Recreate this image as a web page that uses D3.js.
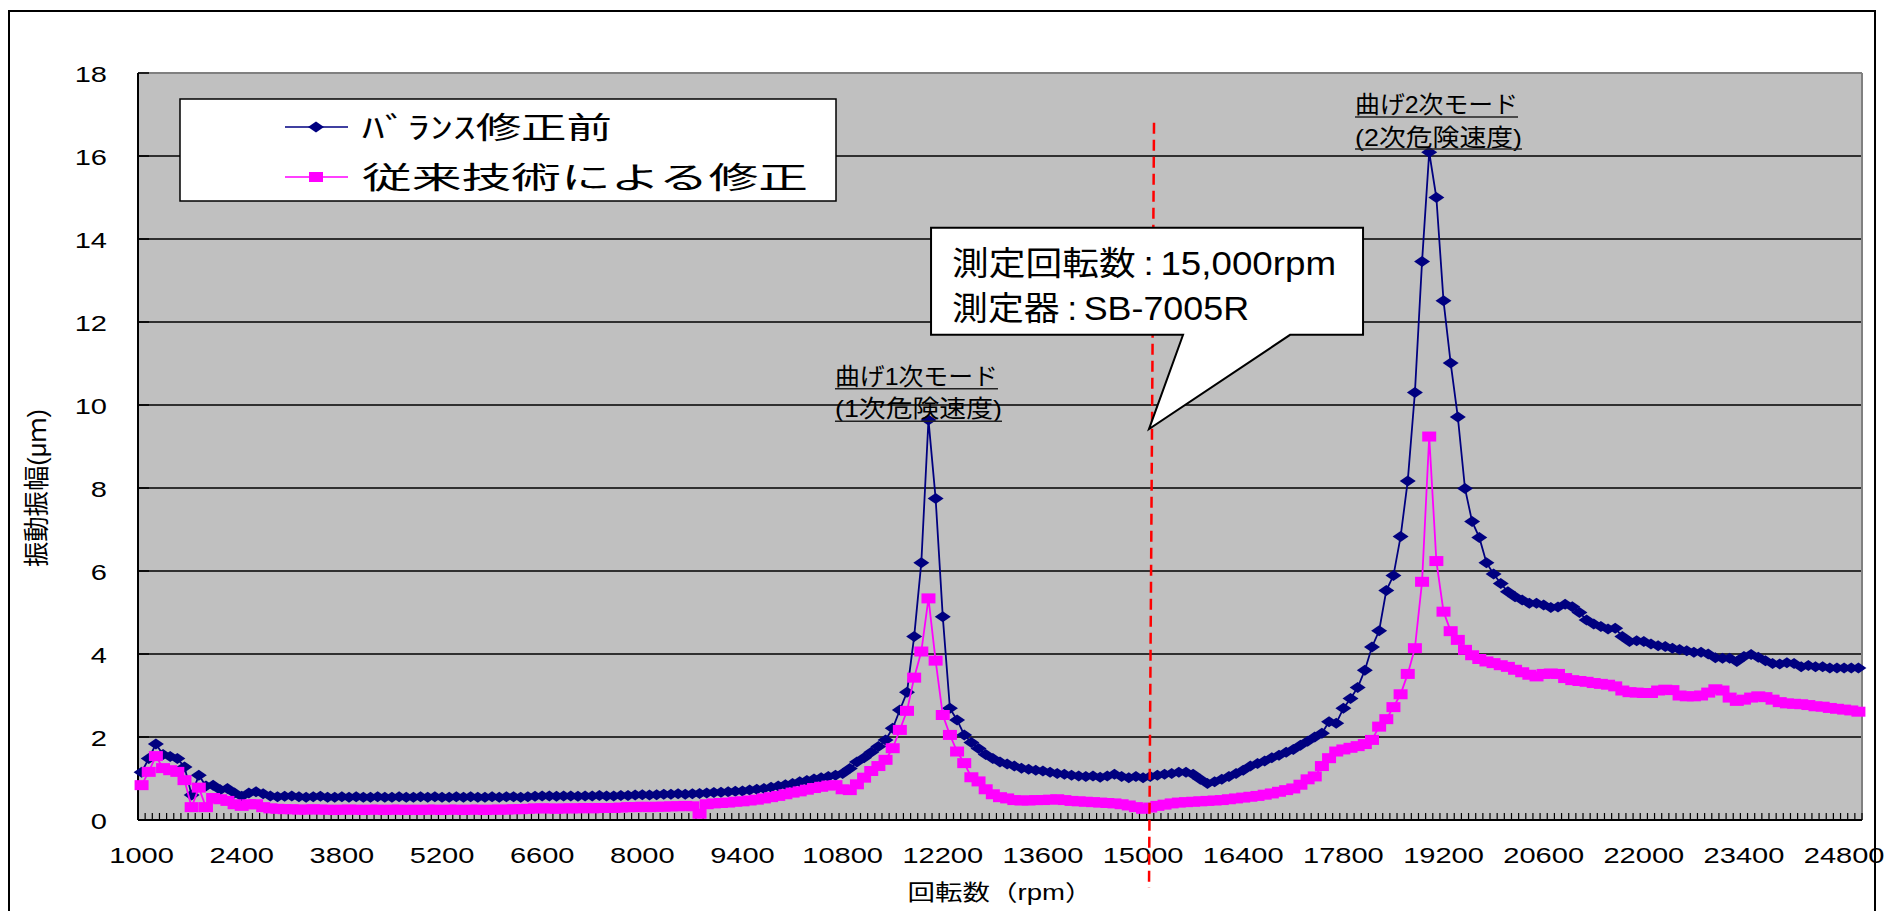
<!DOCTYPE html>
<html><head><meta charset="utf-8">
<script src="https://cdn.jsdelivr.net/npm/d3@7"></script>
<style>
html,body{margin:0;padding:0;background:#fff;}
svg{display:block;}
</style></head>
<body>
<svg id="chart" width="1886" height="911"></svg>
<script>
// ---------------- DATA ----------------
const rpm = d3.range(1000, 25001, 100); // category axis: 1000 … 25000 rpm, every 100 rpm
const xTickLabels = ["1000","2400","3800","5200","6600","8000","9400","10800","12200","13600","15000","16400","17800","19200","20600","22000","23400","24800"];
const yTicks = [0,2,4,6,8,10,12,14,16,18];
const seriesNames = ["ﾊﾞﾗﾝｽ修正前", "従来技術による修正"];
const xTitle = "回転数（rpm）";
const yTitle = "振動振幅(μｍ)";

// ﾊﾞﾗﾝｽ修正前 (before balance correction), µm
const before = [
1.15,1.48,1.83,1.58,1.53,1.48,1.28,0.60,1.08,0.82,
0.84,0.73,0.76,0.65,0.57,0.65,0.68,0.63,0.58,0.56,
0.57,0.58,0.56,0.55,0.56,0.57,0.55,0.55,0.56,0.55,
0.56,0.55,0.55,0.56,0.55,0.55,0.56,0.55,0.55,0.56,
0.55,0.56,0.55,0.55,0.56,0.55,0.56,0.55,0.55,0.56,
0.55,0.56,0.56,0.55,0.56,0.57,0.58,0.58,0.57,0.58,
0.58,0.57,0.58,0.58,0.59,0.58,0.58,0.59,0.59,0.60,
0.61,0.60,0.61,0.62,0.62,0.63,0.62,0.63,0.64,0.65,
0.66,0.67,0.68,0.69,0.70,0.72,0.74,0.76,0.79,0.82,
0.85,0.88,0.92,0.95,0.99,1.02,1.05,1.08,1.12,1.24,
1.40,1.50,1.63,1.77,1.93,2.21,2.65,3.08,4.42,6.20,
9.64,7.75,4.90,2.69,2.41,2.05,1.87,1.72,1.58,1.48,
1.40,1.35,1.30,1.25,1.22,1.20,1.18,1.15,1.12,1.10,
1.08,1.06,1.05,1.06,1.03,1.06,1.10,1.05,1.02,1.05,
1.02,1.05,1.08,1.10,1.12,1.15,1.15,1.10,0.98,0.88,
0.92,0.98,1.05,1.12,1.20,1.30,1.36,1.42,1.50,1.56,
1.63,1.70,1.80,1.90,2.00,2.09,2.37,2.33,2.69,2.93,
3.19,3.61,4.17,4.56,5.53,5.89,6.83,8.17,10.30,13.46,
16.09,15.00,12.51,11.01,9.71,7.99,7.19,6.81,6.20,5.93,
5.70,5.50,5.38,5.30,5.22,5.22,5.18,5.12,5.13,5.20,
5.14,5.00,4.82,4.72,4.66,4.60,4.62,4.42,4.30,4.32,
4.30,4.24,4.20,4.18,4.14,4.11,4.08,4.04,4.04,4.00,
3.91,3.90,3.90,3.82,3.94,3.99,3.92,3.84,3.77,3.76,
3.79,3.77,3.69,3.72,3.69,3.69,3.66,3.66,3.66,3.66,
3.66];

// 従来技術による修正 (after conventional correction), µm
const conventional = [
0.84,1.16,1.54,1.25,1.20,1.16,0.96,0.31,0.78,0.31,
0.53,0.50,0.46,0.38,0.34,0.38,0.38,0.31,0.28,0.27,
0.26,0.26,0.25,0.25,0.26,0.25,0.25,0.24,0.25,0.25,
0.25,0.24,0.25,0.25,0.24,0.25,0.25,0.24,0.25,0.24,
0.25,0.25,0.24,0.25,0.25,0.24,0.25,0.25,0.24,0.25,
0.25,0.25,0.26,0.26,0.27,0.28,0.28,0.28,0.27,0.28,
0.28,0.28,0.29,0.28,0.29,0.29,0.29,0.30,0.31,0.31,
0.32,0.31,0.32,0.32,0.33,0.33,0.34,0.33,0.15,0.38,
0.40,0.41,0.42,0.44,0.45,0.47,0.49,0.52,0.55,0.58,
0.62,0.66,0.69,0.73,0.77,0.80,0.83,0.84,0.74,0.72,
0.86,1.02,1.18,1.30,1.45,1.73,2.17,2.63,3.43,4.06,
5.34,3.84,2.53,2.05,1.65,1.37,1.03,0.93,0.74,0.62,
0.55,0.52,0.48,0.47,0.47,0.48,0.48,0.49,0.50,0.48,
0.46,0.45,0.44,0.43,0.42,0.41,0.40,0.38,0.35,0.31,
0.27,0.30,0.34,0.37,0.40,0.42,0.43,0.44,0.45,0.46,
0.47,0.48,0.50,0.52,0.54,0.56,0.58,0.61,0.64,0.68,
0.72,0.76,0.85,0.98,1.05,1.30,1.49,1.65,1.70,1.74,
1.78,1.83,1.93,2.25,2.43,2.72,3.03,3.52,4.14,5.74,
9.24,6.24,5.02,4.55,4.34,4.10,3.97,3.88,3.82,3.78,
3.73,3.69,3.62,3.56,3.50,3.46,3.52,3.53,3.52,3.42,
3.37,3.35,3.33,3.30,3.28,3.26,3.22,3.12,3.08,3.07,
3.06,3.06,3.12,3.14,3.13,3.00,2.98,2.98,3.00,3.07,
3.15,3.12,2.95,2.87,2.90,2.95,2.98,2.96,2.90,2.84,
2.81,2.80,2.79,2.77,2.74,2.73,2.70,2.68,2.66,2.64,
2.61];

// annotations (in data coordinates: rpm, µm)
const peakNotes = [
  {rpm: 10693, lines: ["曲げ1次モード", "(1次危険速度)"], base: [10.48, 9.71], under: [10.39, 9.61], len: [163, 167]},
  {rpm: 17963, lines: ["曲げ2次モード", "(2次危険速度)"], base: [17.04, 16.24], under: [16.94, 16.17], len: [163, 167]}
];
// callout text pieces: [label, colon, value]
const calloutLines = [["測定回転数", ":", "15,000rpm"], ["測定器", ":", "SB-7005R"]];
const callout = {left: 12036, right: 18075, top: 14.27, bottom: 11.69, baseL: 15559, baseR: 17055, tipX: 15083, tipY: 9.42,
                 textX: 12330, textY: [13.13, 12.05], len: [384, 297]};
const markLine = {rpmTop: 15153, vTop: 16.8, rpmBot: 15083, vBot: -1.64};

// ---------------- CHART ----------------
const svg = d3.select("#chart");
const M = {left: 138, right: 1862, top: 73, bottom: 820};
const LAT = "'Liberation Sans', Arial, sans-serif";
const JP = "'Liberation Sans', 'Noto Sans CJK JP', sans-serif";
const SX = 1.32; // horizontal stretch of the original picture

const x = d3.scaleBand().domain(rpm).range([M.left, M.right]).paddingInner(0).paddingOuter(0);
const bw = x.bandwidth();
const xr = d3.scaleLinear().domain([rpm[0], rpm[rpm.length-1]])
  .range([x(rpm[0]) + bw/2, x(rpm[rpm.length-1]) + bw/2]);
const y = d3.scaleLinear().domain([0, 18]).range([M.bottom, M.top]);

// outer frame
svg.append("rect").attr("x", 9).attr("y", 11).attr("width", 1866).attr("height", 940)
  .attr("fill", "#fff").attr("stroke", "#000").attr("stroke-width", 2);

// plot area
svg.append("rect").attr("x", M.left).attr("y", M.top)
  .attr("width", M.right - M.left).attr("height", M.bottom - M.top).attr("fill", "#c0c0c0");

// gridlines
svg.append("g").selectAll("line").data(yTicks.filter(v => v > 0 && v < 18)).join("line")
  .attr("x1", M.left).attr("x2", M.right).attr("y1", d => y(d)).attr("y2", d => y(d))
  .attr("stroke", "#000").attr("stroke-width", 1.3);
// top & right border (grey)
svg.append("line").attr("x1", M.left).attr("x2", M.right).attr("y1", y(18)).attr("y2", y(18))
  .attr("stroke", "#808080").attr("stroke-width", 2);
svg.append("line").attr("x1", M.right).attr("x2", M.right).attr("y1", M.top).attr("y2", M.bottom)
  .attr("stroke", "#808080").attr("stroke-width", 2);

// y inner ticks
svg.append("g").selectAll("line").data(yTicks).join("line")
  .attr("x1", M.left).attr("x2", M.left + 11).attr("y1", d => y(d)).attr("y2", d => y(d))
  .attr("stroke", "#000").attr("stroke-width", 1.5);

// x category ticks (at band boundaries, inside)
svg.append("g").selectAll("line").data(rpm.map(r => x(r)).concat([M.right])).join("line")
  .attr("x1", d => d).attr("x2", d => d).attr("y1", M.bottom).attr("y2", M.bottom - 7)
  .attr("stroke", "#000").attr("stroke-width", 1.2);

// axis lines
svg.append("line").attr("x1", M.left).attr("x2", M.left).attr("y1", M.top).attr("y2", M.bottom)
  .attr("stroke", "#000").attr("stroke-width", 2);
svg.append("line").attr("x1", M.left).attr("x2", M.right).attr("y1", M.bottom).attr("y2", M.bottom)
  .attr("stroke", "#000").attr("stroke-width", 2);

// x axis labels
const gx = svg.append("g").attr("transform", `translate(0,${M.bottom})`)
  .call(d3.axisBottom(x).tickValues(xTickLabels.map(Number)).tickSize(0).tickPadding(27).tickFormat(d => String(d)));
gx.select(".domain").remove();
gx.selectAll("text").attr("font-family", LAT).attr("font-size", 22).attr("fill", "#000")
  .attr("transform", `scale(${SX},1)`);

// y axis labels
const gy = svg.append("g").attr("transform", `translate(${M.left},0)`)
  .call(d3.axisLeft(y).tickValues(yTicks).tickSize(0).tickPadding(0));
gy.select(".domain").remove();
gy.selectAll("text").attr("font-family", LAT).attr("font-size", 22).attr("fill", "#000")
  .attr("x", -31 / SX).attr("dy", "0.4em").attr("transform", `scale(${SX},1)`);

// axis titles
svg.append("text").attr("x", (M.left + M.right) / 2).attr("y", 900)
  .attr("text-anchor", "middle").attr("font-family", JP).attr("font-size", 22)
  .attr("textLength", 185).attr("lengthAdjust", "spacingAndGlyphs").text(xTitle);
svg.append("text").attr("transform", `translate(37,488) scale(1.25,1) rotate(-90)`)
  .attr("text-anchor", "middle").attr("dominant-baseline", "central")
  .attr("font-family", JP).attr("font-size", 21)
  .attr("textLength", 158).attr("lengthAdjust", "spacingAndGlyphs").text(yTitle);

// series
const line = d3.line().x((d, i) => x(rpm[i]) + bw/2).y(d => y(d));
const diamond = "M0,-5.5L8,0L0,5.5L-8,0Z";
const square = "M-7,-5H7V5H-7Z";
const series = [
  {vals: before, color: "#000080", shape: diamond},
  {vals: conventional, color: "#ff00ff", shape: square}
];
series.forEach(s => {
  svg.append("path").datum(s.vals).attr("d", line).attr("fill", "none")
    .attr("stroke", s.color).attr("stroke-width", 1.8);
  svg.append("g").selectAll("path").data(s.vals).join("path")
    .attr("d", s.shape).attr("fill", s.color)
    .attr("transform", (d, i) => `translate(${x(rpm[i]) + bw/2},${y(d)})`);
});

// red dashed measurement line
svg.append("line")
  .attr("x1", xr(markLine.rpmTop)).attr("y1", y(markLine.vTop))
  .attr("x2", xr(markLine.rpmBot)).attr("y2", y(markLine.vBot))
  .attr("stroke", "#ff0000").attr("stroke-width", 2.5).attr("stroke-dasharray", "11,6");

// peak notes
peakNotes.forEach(n => {
  n.lines.forEach((t, k) => {
    svg.append("text").attr("x", xr(n.rpm)).attr("y", y(n.base[k]))
      .attr("font-family", JP).attr("font-size", 24).attr("fill", "#000")
      .attr("textLength", n.len[k]).attr("lengthAdjust", "spacingAndGlyphs").text(t);
    svg.append("line").attr("x1", xr(n.rpm)).attr("x2", xr(n.rpm) + n.len[k])
      .attr("y1", y(n.under[k])).attr("y2", y(n.under[k]))
      .attr("stroke", "#222").attr("stroke-width", 1.5);
  });
});

// callout
const c = callout;
const cp = d3.path();
cp.moveTo(xr(c.left), y(c.top));
cp.lineTo(xr(c.right), y(c.top));
cp.lineTo(xr(c.right), y(c.bottom));
cp.lineTo(xr(c.baseR), y(c.bottom));
cp.lineTo(xr(c.tipX), y(c.tipY));
cp.lineTo(xr(c.baseL), y(c.bottom));
cp.lineTo(xr(c.left), y(c.bottom));
cp.closePath();
svg.append("path").attr("d", cp.toString()).attr("fill", "#fff").attr("stroke", "#000").attr("stroke-width", 2);
calloutLines.forEach((parts, k) => {
  const t = svg.append("text").attr("x", xr(c.textX)).attr("y", y(c.textY[k]))
    .attr("font-family", JP).attr("font-size", 33).attr("fill", "#000")
    .attr("textLength", c.len[k]).attr("lengthAdjust", "spacingAndGlyphs");
  t.append("tspan").text(parts[0]);
  t.append("tspan").attr("dx", 7).text(parts[1]);
  t.append("tspan").attr("dx", 6).text(parts[2]);
});

// legend
const L = {x: M.left + 42, y: 99, w: 656, h: 102};
const lg = svg.append("g");
lg.append("rect").attr("x", L.x).attr("y", L.y).attr("width", L.w).attr("height", L.h)
  .attr("fill", "#fff").attr("stroke", "#000").attr("stroke-width", 1.5);
const legLen = [250, 446];
series.forEach((s, k) => {
  const ly = L.y + 28 + k * 50;
  lg.append("line").attr("x1", L.x + 105).attr("x2", L.x + 168).attr("y1", ly).attr("y2", ly)
    .attr("stroke", s.color).attr("stroke-width", 1.5);
  lg.append("path").attr("d", s.shape).attr("fill", s.color).attr("transform", `translate(${L.x + 136},${ly})`);
  lg.append("text").attr("x", L.x + 182).attr("y", ly + 10.5)
    .attr("font-family", JP).attr("font-size", 30).attr("fill", "#000")
    .attr("textLength", legLen[k]).attr("lengthAdjust", "spacingAndGlyphs").text(seriesNames[k]);
});
</script>
</body></html>
